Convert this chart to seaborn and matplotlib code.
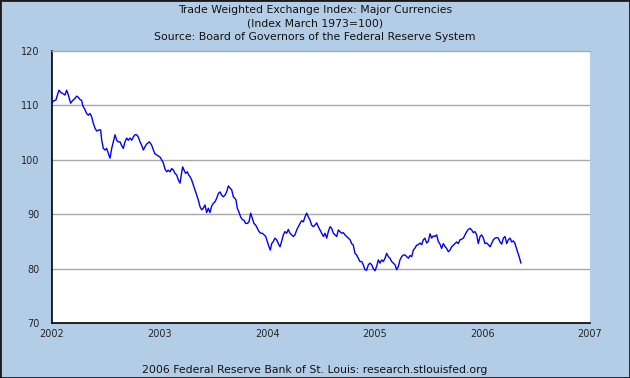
import matplotlib
matplotlib.use("Agg")
import matplotlib.pyplot as plt
import seaborn as sns
import pandas as pd
from matplotlib.patches import Rectangle

# -----------------------
# Data
# -----------------------
years = [
    2002.000, 2002.012, 2002.037, 2002.050, 2002.065, 2002.081, 2002.099, 2002.121,
    2002.136, 2002.152, 2002.173, 2002.192, 2002.210, 2002.229, 2002.244, 2002.260,
    2002.276, 2002.285, 2002.298, 2002.307, 2002.322, 2002.338, 2002.353, 2002.369,
    2002.384, 2002.400, 2002.415, 2002.440, 2002.452, 2002.462, 2002.477, 2002.493,
    2002.508, 2002.523, 2002.539, 2002.555, 2002.570, 2002.586, 2002.601, 2002.616,
    2002.632, 2002.648, 2002.663, 2002.678, 2002.694, 2002.709, 2002.725, 2002.741,
    2002.756, 2002.771, 2002.787, 2002.802, 2002.818, 2002.833, 2002.849, 2002.864,
    2002.880, 2002.905, 2002.926, 2002.942, 2002.957, 2002.973, 2002.988, 2003.004,
    2003.019, 2003.035, 2003.050, 2003.066, 2003.081, 2003.097, 2003.112, 2003.128,
    2003.143, 2003.159, 2003.174, 2003.190, 2003.199, 2003.214, 2003.227, 2003.242,
    2003.258, 2003.270, 2003.283, 2003.298, 2003.313, 2003.329, 2003.344, 2003.360,
    2003.375, 2003.391, 2003.406, 2003.422, 2003.437, 2003.453, 2003.468, 2003.484,
    2003.499, 2003.515, 2003.530, 2003.546, 2003.561, 2003.577, 2003.592, 2003.608,
    2003.623, 2003.639, 2003.654, 2003.670, 2003.685, 2003.701, 2003.710, 2003.722,
    2003.741, 2003.753, 2003.769, 2003.784, 2003.800, 2003.815, 2003.831, 2003.846,
    2003.862, 2003.877, 2003.893, 2003.908, 2003.924, 2003.939, 2003.955, 2003.970,
    2003.986, 2004.001, 2004.017, 2004.029, 2004.042, 2004.057, 2004.072, 2004.088,
    2004.103, 2004.119, 2004.134, 2004.150, 2004.165, 2004.181, 2004.196, 2004.212,
    2004.227, 2004.243, 2004.258, 2004.274, 2004.289, 2004.305, 2004.320, 2004.336,
    2004.351, 2004.367, 2004.382, 2004.398, 2004.413, 2004.429, 2004.444, 2004.460,
    2004.475, 2004.491, 2004.506, 2004.522, 2004.537, 2004.553, 2004.568, 2004.584,
    2004.599, 2004.615, 2004.630, 2004.646, 2004.661, 2004.677, 2004.692, 2004.708,
    2004.723, 2004.739, 2004.754, 2004.770, 2004.785, 2004.800, 2004.816, 2004.831,
    2004.847, 2004.862, 2004.878, 2004.893, 2004.909, 2004.924, 2004.940, 2004.955,
    2004.971, 2004.986, 2005.002, 2005.017, 2005.033, 2005.048, 2005.064, 2005.079,
    2005.095, 2005.110, 2005.126, 2005.141, 2005.157, 2005.172, 2005.188, 2005.203,
    2005.219, 2005.234, 2005.250, 2005.265, 2005.281, 2005.296, 2005.312, 2005.327,
    2005.343, 2005.358, 2005.374, 2005.389, 2005.405, 2005.420, 2005.436, 2005.451,
    2005.466, 2005.482, 2005.497, 2005.513, 2005.528, 2005.544, 2005.559, 2005.575,
    2005.590, 2005.606, 2005.621, 2005.637, 2005.652, 2005.668, 2005.683, 2005.699,
    2005.714, 2005.730, 2005.745, 2005.761, 2005.776, 2005.792, 2005.807, 2005.823,
    2005.838, 2005.854, 2005.869, 2005.885, 2005.900, 2005.916, 2005.931, 2005.947,
    2005.962, 2005.978, 2005.993, 2006.009, 2006.024, 2006.040, 2006.055, 2006.071,
    2006.086, 2006.102, 2006.117, 2006.133, 2006.148, 2006.164, 2006.179, 2006.195,
    2006.210, 2006.226, 2006.241, 2006.257, 2006.272, 2006.288, 2006.303, 2006.312,
    2006.327, 2006.336, 2006.346, 2006.358,
]
index_values = [
    110.4, 110.8, 111.0, 111.9, 112.8, 112.4, 112.2, 111.9,
    112.8, 111.9, 110.4, 110.9, 111.2, 111.7, 111.5, 111.1,
    110.9, 110.0, 109.5, 109.2, 108.5, 108.2, 108.5, 107.9,
    106.7, 105.8, 105.3, 105.5, 105.5, 103.6, 102.1, 101.8,
    102.1, 101.2, 100.3, 102.1, 103.3, 104.6, 103.6, 103.3,
    103.3, 102.6, 102.1, 103.3, 104.0, 103.6, 104.0, 103.6,
    104.2, 104.6, 104.6, 104.2, 103.3, 102.7, 101.8, 102.4,
    102.9, 103.3, 102.7, 101.8, 101.1, 100.9, 100.7, 100.5,
    100.0, 99.4, 98.3, 97.8, 98.1, 97.8, 98.4, 98.1,
    97.5, 97.2, 96.3, 95.7, 96.9, 98.7, 98.1, 97.5,
    97.8, 97.2, 96.9, 96.3, 95.4, 94.5, 93.5, 92.6,
    91.4, 90.8, 91.1, 91.7, 90.3, 91.1, 90.3, 91.5,
    92.0, 92.3, 92.9, 93.8, 94.1, 93.5, 93.2, 93.5,
    94.1, 95.2, 94.8, 94.5, 93.2, 92.9, 92.6, 91.1,
    90.2, 89.5, 89.0, 88.9, 88.3, 88.3, 88.6, 90.2,
    89.2, 88.3, 88.0, 87.4, 86.8, 86.5, 86.5, 86.2,
    85.9, 85.0, 84.0, 83.4, 84.6, 85.0, 85.6, 85.3,
    84.6, 84.0, 85.0, 86.2, 86.8, 86.5, 87.2, 86.5,
    86.2, 85.9, 86.2, 87.1, 87.7, 88.3, 88.8, 88.6,
    89.5, 90.2, 89.5, 88.9, 88.0, 87.7, 88.0, 88.4,
    87.7, 87.1, 86.5, 85.9, 86.5, 85.6, 86.8, 87.7,
    87.4, 86.5, 86.2, 85.9, 87.1, 86.8, 86.5, 86.6,
    86.2, 85.9, 85.6, 85.3, 84.6, 84.3, 82.8, 82.5,
    81.9, 81.3, 81.3, 80.7, 79.8, 79.7, 80.7, 81.0,
    80.7, 80.0, 79.6, 80.4, 81.6, 81.0, 81.6, 81.3,
    81.9, 82.8, 82.2, 81.9, 81.3, 81.0, 80.7, 79.8,
    80.4, 81.6, 82.2, 82.5, 82.5, 82.2, 81.9, 82.4,
    82.2, 83.4, 83.8, 84.3, 84.4, 84.7, 84.4, 85.3,
    85.6, 84.7, 85.0, 86.4, 85.6, 86.0, 85.9, 86.2,
    85.0, 84.5, 83.7, 84.6, 84.1, 83.7, 83.1, 83.4,
    84.0, 84.3, 84.6, 84.9, 84.6, 85.3, 85.4, 85.6,
    86.2, 86.8, 87.2, 87.4, 87.1, 86.6, 86.8, 86.2,
    84.6, 85.9, 86.2, 85.6, 84.6, 84.7, 84.4, 84.0,
    84.6, 85.3, 85.6, 85.7, 85.6, 84.9, 84.5, 85.6,
    85.9, 84.6, 85.3, 85.6, 84.9, 85.1, 84.6, 84.0,
    83.1, 82.5, 81.9, 81.0,
]

x_ticks = [2002, 2003, 2004, 2005, 2006, 2007]
y_ticks = [70, 80, 90, 100, 110, 120]

title_lines = [
    "Trade Weighted Exchange Index: Major Currencies",
    "(Index March 1973=100)",
    "Source: Board of Governors of the Federal Reserve System",
]
footer = "2006 Federal Reserve Bank of St. Louis: research.stlouisfed.org"

df = pd.DataFrame({"year": years, "index": index_values})

# -----------------------
# Plot
# -----------------------
sns.set_style("white")
plt.rcParams["font.family"] = ["DejaVu Sans"]

bg = "#B4CDE6"
fig = plt.figure(figsize=(6.3, 3.78), dpi=100, facecolor=bg)
ax = fig.add_axes([52 / 630, 55 / 378, 538 / 630, 272 / 378])
ax.set_facecolor("white")

for v in y_ticks[1:-1]:
    ax.axhline(v, color="#A8A8A8", lw=1.0, zorder=1)

sns.lineplot(data=df, x="year", y="index", ax=ax, color="#0000FF",
             lw=1.0, estimator=None, sort=False, zorder=3)

ax.set_xlim(2002, 2007)
ax.set_ylim(70, 120)
ax.set_xticks(x_ticks)
ax.set_yticks(y_ticks)
ax.set_xticklabels([str(t) for t in x_ticks])
ax.set_yticklabels([str(t) for t in y_ticks])
ax.set_xlabel("")
ax.set_ylabel("")

ax.tick_params(axis="both", direction="in", length=5, width=1.0,
               color="black", labelsize=7, pad=6)
ax.tick_params(axis="y", pad=9)
ax.tick_params(axis="x", pad=4)

ax.spines["left"].set_color("black")
ax.spines["bottom"].set_color("black")
ax.spines["left"].set_linewidth(1.2)
ax.spines["bottom"].set_linewidth(1.2)
ax.spines["top"].set_color("#A8A8A8")
ax.spines["top"].set_linewidth(1.0)
ax.spines["right"].set_visible(False)

for i, line in enumerate(title_lines):
    fig.text(0.5, 1 - (10 + 13.5 * i) / 378, line, ha="center", va="center",
             fontsize=7.8, color="#111111")
fig.text(0.5, 1 - 370 / 378, footer, ha="center", va="center",
         fontsize=7.8, color="#111111")

fig.patches.append(Rectangle((0, 0), 1, 1, transform=fig.transFigure,
                             fill=False, edgecolor="#1a1a1a", lw=2.0))

fig.savefig("out.png", dpi=100, facecolor=bg)
